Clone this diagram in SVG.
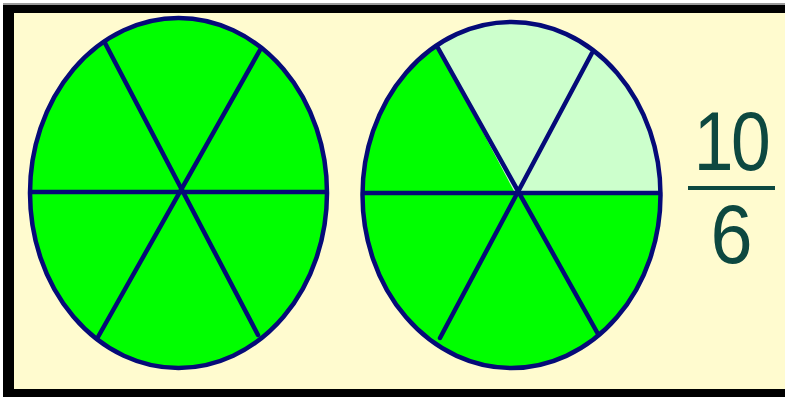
<svg xmlns="http://www.w3.org/2000/svg" width="785" height="397" viewBox="0 0 785 397">
<defs>
<clipPath id="clipR"><ellipse cx="511.5" cy="195" rx="149" ry="173"/></clipPath>
</defs>
<style>
.full{fill:#00ff00}
.light{fill:#ccffcc}
.spoke{stroke:#050a78;stroke-width:4.5;stroke-linecap:round;fill:none}
.rim{fill:none;stroke:#050a78;stroke-width:4.5}
.num{font-family:"Liberation Sans",Arial,sans-serif;font-size:84px;fill:#0d4840}
</style>
<rect x="0" y="0" width="785" height="397" fill="#ffffff"/>
<rect x="3" y="3" width="782" height="2" fill="#9a9a9a"/>
<rect x="3" y="5" width="782" height="392" fill="#000000"/>
<rect x="14" y="13" width="771" height="376" fill="#fffbcf"/>
<g id="pie-left">
<ellipse cx="178.5" cy="193" rx="148.5" ry="175" class="full"/>
<line class="spoke" x1="31" y1="192" x2="326" y2="192"/>
<line class="spoke" x1="105" y1="43" x2="258" y2="335"/>
<line class="spoke" x1="260" y1="50" x2="98" y2="337"/>
<ellipse cx="178.5" cy="193" rx="148.5" ry="175" class="rim"/>
</g>
<g id="pie-right">
<ellipse cx="511.5" cy="195" rx="149" ry="173" class="full"/>
<polygon class="light" clip-path="url(#clipR)" points="515,193 415,4 760,4 760,193"/>
<line class="spoke" x1="363" y1="193" x2="660" y2="193"/>
<line class="spoke" x1="438" y1="48" x2="598" y2="334"/>
<line class="spoke" x1="592" y1="53" x2="440" y2="338"/>
<ellipse cx="511.5" cy="195" rx="149" ry="173" class="rim"/>
</g>
<g id="fraction">
<text class="num" transform="translate(731,170) scale(0.85,1)" x="0" y="0" text-anchor="middle" letter-spacing="-3">10</text>
<rect x="688" y="186" width="87" height="4" fill="#0d4840"/>
<text class="num" transform="translate(731.5,263) scale(0.9,1)" x="0" y="0" text-anchor="middle">6</text>
</g>
</svg>
